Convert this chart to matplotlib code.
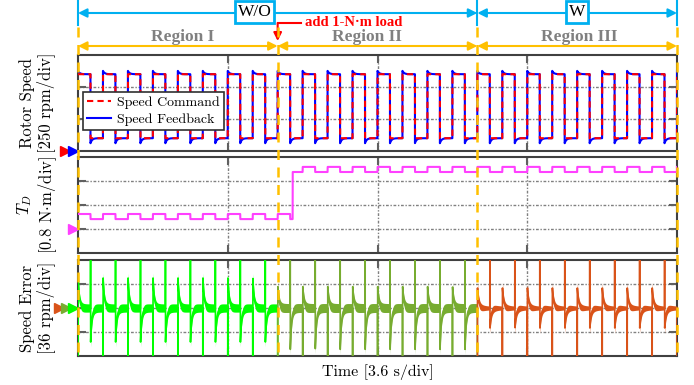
import numpy as np
import matplotlib
matplotlib.use("Agg")
import matplotlib.pyplot as plt
from matplotlib import transforms
from matplotlib.lines import Line2D
from matplotlib.patches import FancyArrowPatch

plt.rcParams['mathtext.fontset'] = 'cm'
plt.rcParams['axes.unicode_minus'] = False
CM = ['cmr10', 'DejaVu Serif']
TIMES = ['Liberation Serif', 'DejaVu Serif']

# ---------------- data ----------------
time_div_s = 3.6
time_span_s = 14.4
region_edges_s = [0.0, 4.8, 9.6, 14.4]
region_names = ['Region I', 'Region II', 'Region III']
region_label_s = [2.52, 6.94, 12.05]
region_err_colors = ['#00FF00', '#77AC30', '#D95319']
mode_edges_s = [0.0, 9.6, 14.4]
mode_names = ['W/O', 'W']
mode_label_s = [4.25, 12.0]
load_label = 'add 1-N·m load'
load_step_s = 5.16

speed_period_s = 0.6
speed_high_rpm = 600
speed_low_rpm = 100
fb_overshoot_rpm = 26
fb_undershoot_rpm = 39
fb_decay_s = 0.04

td_high_nm = [0.50, 2.07]
td_low_nm = [0.33, 1.90]

err_bump_rpm = [45, 32, 30]
err_dip_rpm = [51, 62, 30]
err_spike_rpm = 150
err_noise_rpm = [6, 6.5, 2.5]
err_burst_rpm = [1.5, 1.5, 6]
err_decay_s = 0.03
err_burst_decay_s = 0.12

# ---------------- signals ----------------
t = np.linspace(0, time_span_s, 28801)
half = speed_period_s / 2
phase = np.mod(t, speed_period_s)
is_high = phase < half
tau = np.mod(t, half)

cmd = np.where(is_high, speed_high_rpm, speed_low_rpm)
fb = cmd + np.where(is_high, fb_overshoot_rpm, -fb_undershoot_rpm) * np.exp(-tau / fb_decay_s)

reg = np.searchsorted(region_edges_s[1:-1], t, side='right')
bump = np.array(err_bump_rpm)[reg]
dip = np.array(err_dip_rpm)[reg]
noise = np.array(err_noise_rpm)[reg] + np.array(err_burst_rpm)[reg] * np.exp(-tau / err_burst_decay_s)
spike_w = 0.004
err = np.where(tau < spike_w,
               np.where(is_high, -err_spike_rpm, err_spike_rpm),
               np.where(is_high, bump, -dip) * np.exp(-(tau - spike_w) / err_decay_s))

after = t >= load_step_s
td = np.where(after,
              np.where(is_high, td_high_nm[1], td_low_nm[1]),
              np.where(is_high, td_high_nm[0], td_low_nm[0]))

# ---------------- figure ----------------
W, H = 694, 385
fig = plt.figure(figsize=(W / 100, H / 100), dpi=100)

def fx(px):
    return px / W

def fy(py):
    return 1 - py / H

left, right = 78, 677
panels_px = [(55, 151), (157, 253), (260, 356)]
axes = []
for top, bot in panels_px:
    ax = fig.add_axes([fx(left), fy(bot), fx(right) - fx(left), (bot - top) / H])
    axes.append(ax)
ax1, ax2, ax3 = axes

for ax in axes:
    ax.set_xlim(0, time_span_s)
    ax.set_xticks([time_div_s, 2 * time_div_s, 3 * time_div_s])
    ax.tick_params(direction='in', length=6, width=1.5, color='#606060',
                   top=True, right=True, labelleft=False, labelbottom=False)
    for s in ax.spines.values():
        s.set_color('#404040')
        s.set_linewidth(1.5)
    ax.grid(True, color='#808080', linestyle=(0, (2, 1.2, 1, 1.2)), linewidth=1.0)
    ax.set_axisbelow(True)

ax1.set_ylim(0, 750)
ax1.set_yticks([250, 500])
ax2.set_ylim(-0.8, 2.4)
ax2.set_yticks([0, 0.8, 1.6])
ax3.set_ylim(-72, 72)
ax3.set_yticks([-36, 0, 36])

ax1.plot(t, fb, color='#0000FF', lw=1.5, label='Speed Feedback', zorder=3)
ax1.plot(t, cmd, color='#FF0000', lw=1.5, ls=(0, (3, 2)), label='Speed Command', zorder=4)
h, l = ax1.get_legend_handles_labels()
leg = ax1.legend([h[1], h[0]], [l[1], l[0]], loc='upper left', bbox_to_anchor=(0.008, 0.615),
                 prop={'family': CM, 'size': 10}, frameon=True, fancybox=False,
                 edgecolor='#303030', framealpha=1, handlelength=1.7, borderpad=0.3,
                 labelspacing=0.3, handletextpad=0.45, borderaxespad=0)
leg.get_frame().set_linewidth(1.2)

ax2.plot(t, td, color='#FF40FF', lw=1.5, zorder=3)

for i in range(3):
    m = (t >= region_edges_s[i]) & (t <= region_edges_s[i + 1])
    ax3.fill_between(t[m], err[m] - noise[m], err[m] + noise[m],
                     color=region_err_colors[i], lw=0, zorder=3)
    ax3.plot(t[m], err[m], color=region_err_colors[i], lw=1.2, zorder=3)

# reference markers
def marker(ax, xoff, y, color):
    tr = transforms.blended_transform_factory(ax.transAxes, ax.transData)
    ax.plot([xoff], [y], marker='>', color=color, ms=7, transform=tr, clip_on=False, zorder=6)

marker(ax1, -0.021, 0, '#FF0000')
marker(ax1, -0.008, 0, '#0000FF')
marker(ax2, -0.008, 0, '#FF40FF')
marker(ax3, -0.032, 0, '#D95319')
marker(ax3, -0.020, 0, '#77AC30')
marker(ax3, -0.008, 0, '#00FF00')

# labels
fig.text(fx(37), fy(103), 'Rotor Speed\n[250 rpm/div]', rotation=90, ha='center', va='center',
         family=CM, fontsize=12, multialignment='center', linespacing=1.1)
fig.text(fx(37), fy(205), '$T_D$\n[0.8 N$\\cdot$m/div]', rotation=90, ha='center', va='center',
         family=CM, fontsize=12, multialignment='center', linespacing=1.1)
fig.text(fx(37), fy(308), 'Speed Error\n[36 rpm/div]', rotation=90, ha='center', va='center',
         family=CM, fontsize=12, multialignment='center', linespacing=1.1)
fig.text(fx(378), fy(372), 'Time [3.6 s/div]', ha='center', va='center', family=CM, fontsize=11.5)

# annotations
tr = transforms.blended_transform_factory(ax1.transData, fig.transFigure)
BLUE = '#00B0F0'
ORANGE = '#FFC000'

for i in range(len(mode_names)):
    a = FancyArrowPatch((mode_edges_s[i], fy(13)), (mode_edges_s[i + 1], fy(13)), transform=tr,
                        arrowstyle='<|-|>', mutation_scale=13, color=BLUE, lw=1.5,
                        shrinkA=0, shrinkB=0)
    fig.add_artist(a)
    fig.text(mode_label_s[i], fy(12), mode_names[i], transform=tr, ha='center', va='center',
             family=TIMES, fontsize=12.5,
             bbox=dict(boxstyle='square,pad=0.15', fc='white', ec=BLUE, lw=2))
for x in mode_edges_s:
    fig.add_artist(Line2D([x, x], [fy(0), fy(25)], transform=tr, color=BLUE, lw=1.5))

for i in range(len(region_names)):
    a = FancyArrowPatch((region_edges_s[i], fy(46)), (region_edges_s[i + 1], fy(46)), transform=tr,
                        arrowstyle='<|-|>', mutation_scale=13, color=ORANGE, lw=1.5,
                        shrinkA=0, shrinkB=0)
    fig.add_artist(a)
    fig.text(region_label_s[i], fy(37), region_names[i], transform=tr, ha='center', va='center',
             family=TIMES, fontsize=12.5, fontweight='bold', color='#808080')
for x in region_edges_s:
    fig.add_artist(Line2D([x, x], [fy(27), fy(357)], transform=tr, color=ORANGE, lw=1.8,
                          dashes=(4, 3), zorder=10))

# load annotation
x_txt = 5.45
fig.add_artist(Line2D([x_txt - 0.08, region_edges_s[1]], [fy(23), fy(23)], transform=tr,
                      color='#FF0000', lw=1.5))
fig.add_artist(FancyArrowPatch((region_edges_s[1], fy(23)), (region_edges_s[1], fy(41)), transform=tr,
                               arrowstyle='-|>', mutation_scale=12, color='#FF0000', lw=1.5,
                               shrinkA=0, shrinkB=0))
fig.text(x_txt, fy(22), load_label, transform=tr, ha='left', va='center', family=TIMES,
         fontsize=10.5, fontweight='bold', color='#FF0000')

fig.savefig('out.png', dpi=100)
